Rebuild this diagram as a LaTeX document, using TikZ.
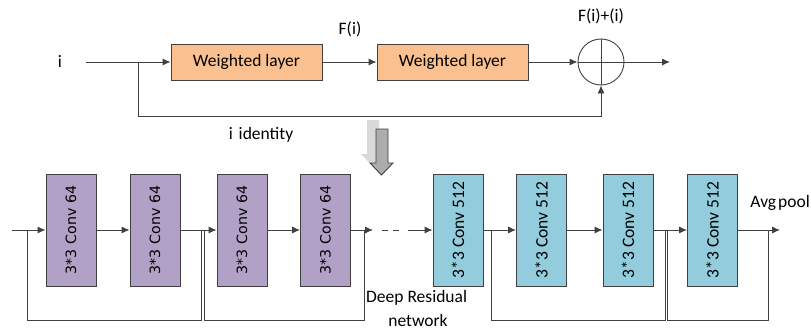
\documentclass[tikz,border=0pt]{standalone}
\usepackage{graphicx}
\usepackage{fontspec}
\setmainfont{Carlito}
\newfontfamily\dvs{DejaVu Sans}
\usetikzlibrary{arrows.meta,calc}
\definecolor{peach}{RGB}{250,192,143}
\definecolor{lav}{RGB}{178,161,199}
\definecolor{skyb}{RGB}{147,205,221}
\definecolor{edge}{RGB}{64,64,64}
\begin{document}
\begin{tikzpicture}[x=1pt,y=-1pt,
  line/.style={draw=edge, line width=0.9pt},
  arr/.style={line, -{Latex[length=8pt,width=7pt]}},
  lbl/.style={font=\fontsize{17.5}{20}\selectfont, inner sep=0},
  wbox/.style={draw=edge, line width=0.9pt, fill=peach, minimum width=151pt, minimum height=36pt, inner sep=0, font=\fontsize{17.5}{20}\selectfont},
  pbox/.style={draw=edge, line width=0.9pt, fill=lav, minimum width=50pt, minimum height=112pt, inner sep=0, font=\dvs\fontsize{14.2}{16}\selectfont},
  bbox/.style={draw=edge, line width=0.9pt, fill=skyb, minimum width=50pt, minimum height=112pt, inner sep=0, font=\fontsize{17.5}{20}\selectfont},
  sumc/.style={draw=edge, line width=0.9pt, circle, minimum size=46pt, inner sep=0}
]
\useasboundingbox (0,0) rectangle (811,329);

% ---------- top: residual block ----------
\node[lbl] (ti) at (60,61) {i};
\node[wbox] (w1) at (246.5,62) {Weighted layer};
\node[wbox] (w2) at (452.5,62) {Weighted layer};
\node[sumc] (sum) at (601,62) {};
\draw[line] (sum.north) -- (sum.south) (sum.west) -- (sum.east);
\node[lbl] (tF) at (350,29) {F(i)};
\node[lbl] (tFi) at (601,16) {F(i)+(i)};
\node[lbl] (tid) at (261,135) {i\hspace{6pt}identity};

\coordinate (in) at (86,62);
\coordinate (br) at (138,62);
\coordinate (skipc) at (601,116);
\coordinate (out) at (670,62);
\draw[line] (in) -- (br);
\draw[arr] (br) -- (w1.west);
\draw[arr] (w1.east) -- (w2.west);
\draw[arr] (w2.east) -- (sum.west);
\draw[arr] (sum.east) -- (out);
\draw[arr] (br) |- (skipc) -- (sum.south);

% ---------- gray down arrow ----------
\fill[gray!30] (367,120) -- (379,120) -- (379,154) -- (384,154) -- (372.5,166) -- (361,154) -- (367,154) -- cycle;
\draw[edge, line width=0.9pt, fill=gray!65] (376,129) -- (388,129) -- (388,163) -- (393,163) -- (381.5,175) -- (370,163) -- (376,163) -- cycle;

% ---------- bottom: deep residual network ----------
\node[pbox] (p1) at (71,230) {\rotatebox{90}{3*3 Conv 64}};
\node[pbox] (p2) at (155,230) {\rotatebox{90}{3*3 Conv 64}};
\node[pbox] (p3) at (242,230) {\rotatebox{90}{3*3 Conv 64}};
\node[pbox] (p4) at (325.5,230) {\rotatebox{90}{3*3 Conv 64}};
\node[bbox] (b5) at (458,230) {\rotatebox{90}{3*3 Conv 512}};
\node[bbox] (b6) at (541.5,230) {\rotatebox{90}{3*3 Conv 512}};
\node[bbox] (b7) at (628,230) {\rotatebox{90}{3*3 Conv 512}};
\node[bbox] (b8) at (712.5,230) {\rotatebox{90}{3*3 Conv 512}};

\coordinate (bin) at (12,230);
\coordinate (s1) at (27,230);
\coordinate (j1) at (201,230);
\coordinate (s2) at (204,230);
\coordinate (j2) at (364,230);
\coordinate (a1) at (373,230);
\coordinate (d1) at (382,230);
\coordinate (d2) at (402,230);
\coordinate (d3) at (408,230);
\coordinate (s3) at (491,230);
\coordinate (j3) at (665,230);
\coordinate (s4) at (667,230);
\coordinate (j4) at (768,230);
\coordinate (out2) at (780,230);

\draw[line] (bin) -- (s1);
\draw[arr] (s1) -- (p1.west);
\draw[arr] (p1.east) -- (p2.west);
\draw[arr] (p2.east) -- (p3.west);
\draw[arr] (p3.east) -- (p4.west);
\draw[arr] (p4.east) -- (a1);
\draw[line, dash pattern=on 6pt off 5pt] (d1) -- (d2);
\draw[arr] (d3) -- (b5.west);
\draw[arr] (b5.east) -- (b6.west);
\draw[arr] (b6.east) -- (b7.west);
\draw[arr] (b7.east) -- (b8.west);
\draw[arr] (b8.east) -- (out2);

\draw[line] (s1) |- ($(j1)+(0,90)$) -- (j1);
\draw[line] (s2) |- ($(j2)+(0,90)$) -- (j2);
\draw[line] (s3) |- ($(j3)+(0,90)$) -- (j3);
\draw[line] (s4) |- ($(j4)+(0,90)$) -- (j4);

\node[lbl, anchor=east] (tavg) at (810,203) {Avg\hspace{2pt}pool};
\node[lbl, anchor=west] (tdeep) at (366,298) {Deep Residual};
\node[lbl] (tnet) at (418,320) {network};
\end{tikzpicture}
\end{document}
